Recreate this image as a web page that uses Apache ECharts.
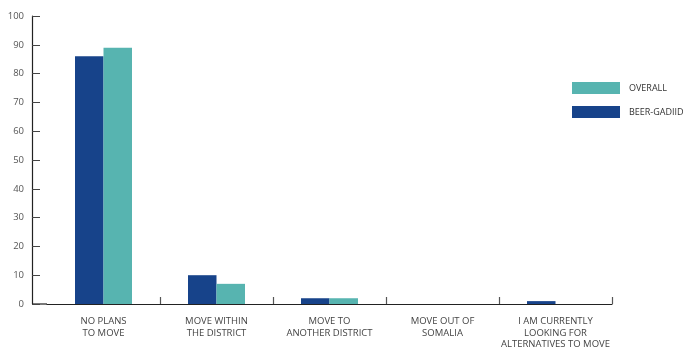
<!DOCTYPE html>
<html>
<head>
<meta charset="utf-8">
<script src="https://cdn.jsdelivr.net/npm/echarts@6/dist/echarts.min.js"></script>
<style>
  html, body { margin: 0; padding: 0; background: #fff; }
  #chart { width: 692px; height: 352px; }
</style>
</head>
<body>
<div id="chart"></div>
<script>
let categories = [
  "NO PLANS\nTO MOVE",
  "MOVE WITHIN\nTHE DISTRICT",
  "MOVE TO\nANOTHER DISTRICT",
  "MOVE OUT OF\nSOMALIA",
  "I AM CURRENTLY\nLOOKING FOR\nALTERNATIVES TO MOVE"
];
let beerGadiid = [86, 10, 2, 0, 1];
let overall = [89, 7, 2, 0, 0];

let chart = echarts.init(document.getElementById("chart"));
let font = "'Open Sans', 'Noto Sans', sans-serif";

let option = {
  animation: false,
  textStyle: { fontFamily: font },
  grid: { left: 47, right: 80, top: 16, bottom: 48 },
  legend: {
    orient: "vertical",
    left: 567,
    top: 77,
    itemWidth: 48,
    itemHeight: 12,
    itemGap: 12,
    icon: "rect",
    data: ["OVERALL", "BEER-GADIID"],
    textStyle: { fontSize: 9, color: "#333", padding: [0, 0, 0, 4] }
  },
  xAxis: {
    type: "category",
    data: categories,
    axisLine: { lineStyle: { color: "#222", width: 1.2 } },
    axisTick: {
      show: true,
      inside: true,
      length: 7,
      customValues: [1, 2, 3, 4],
      lineStyle: { color: "#555", width: 1.2 }
    },
    axisLabel: {
      fontSize: 9.5,
      color: "#444",
      lineHeight: 11.5,
      margin: 12,
      interval: 0
    }
  },
  yAxis: {
    type: "value",
    min: 0,
    max: 100,
    interval: 10,
    offset: 15,
    splitLine: { show: false },
    axisLine: { show: true, lineStyle: { color: "#222", width: 1.2 } },
    axisTick: { show: true, inside: true, length: 8, lineStyle: { color: "#444" } },
    axisLabel: { fontSize: 9.5, color: "#555", margin: 8 }
  },
  graphic: [
    {
      type: "line",
      shape: { x1: 32, y1: 304, x2: 47, y2: 304 },
      style: { stroke: "#222", lineWidth: 1.2 }
    }
  ],
  series: [
    {
      name: "BEER-GADIID",
      type: "bar",
      data: beerGadiid,
      barWidth: 28.5,
      barGap: "0%",
      itemStyle: { color: "#17438a" }
    },
    {
      name: "OVERALL",
      type: "bar",
      data: overall,
      barWidth: 28.5,
      barGap: "0%",
      itemStyle: { color: "#57b4b0" }
    }
  ]
};
chart.setOption(option);
</script>
</body>
</html>
